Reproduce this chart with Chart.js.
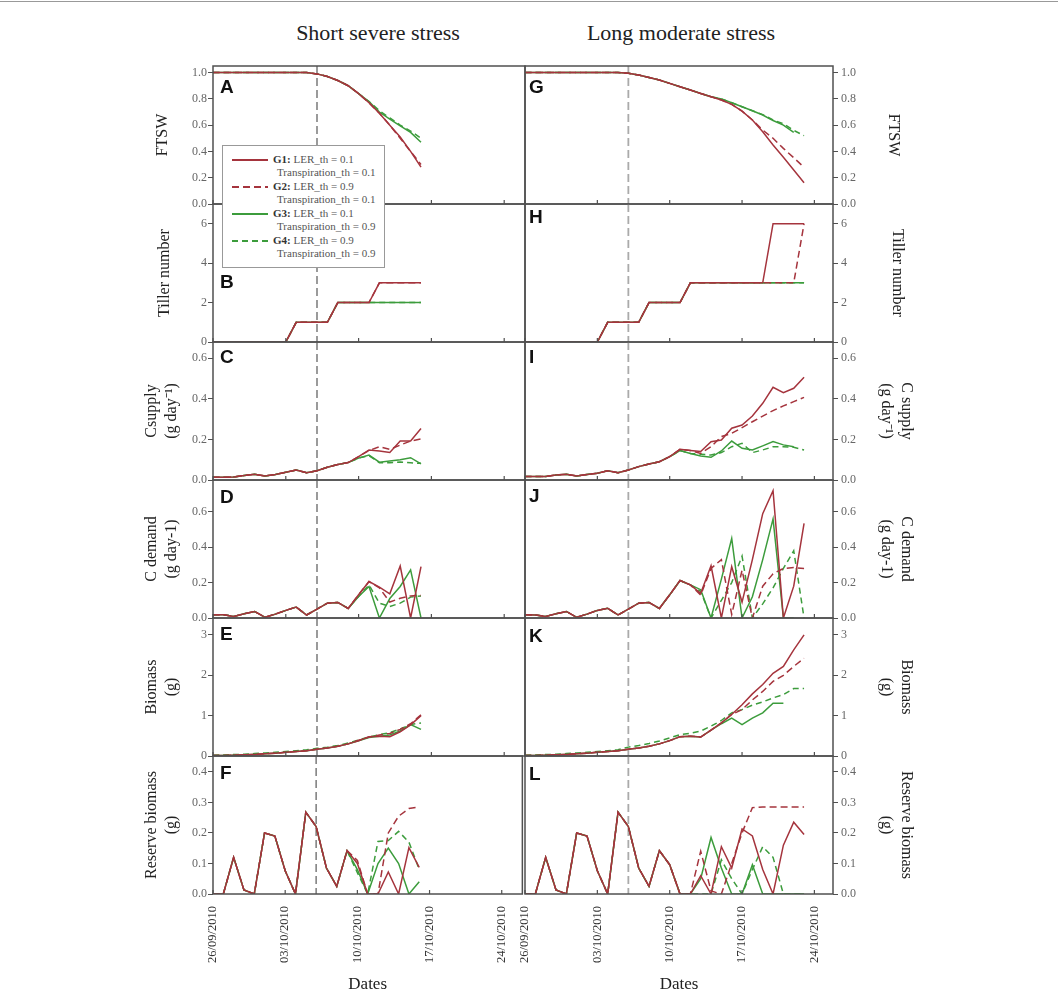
<!DOCTYPE html>
<html>
<head>
<meta charset="utf-8">
<script src="https://cdn.jsdelivr.net/npm/chart.js@4.4.0/dist/chart.umd.min.js"></script>
<style>
  body { margin: 0; background: #fff; width: 1058px; height: 998px; position: relative; overflow: hidden;
         font-family: 'Liberation Serif', 'Times New Roman', serif; }
  canvas { position: absolute; }
  .rule { position: absolute; left: 0; top: 1px; width: 1058px; border-top: 1px solid #999; }
  .head { position: absolute; top: 20px; font-size: 22px; color: #222; transform: translateX(-50%); white-space: nowrap; }
  #legend { position: absolute; left: 222px; top: 145px; width: 161px; height: 121px; border: 1px solid #999;
            background: #fff; z-index: 10; }
  #legend .entry { position: absolute; left: 0; width: 100%; }
  #legend svg { position: absolute; left: 9px; }
  #legend .txt { position: absolute; left: 50px; font-size: 11px; line-height: 13.4px; color: #555; white-space: nowrap; }
  #legend .txt b { color: #333; }
</style>
</head>
<body>
<div class="rule"></div>
<div class="head" style="left:378px">Short severe stress</div>
<div class="head" style="left:681px">Long moderate stress</div>
<div id="legend"></div>
<script>
// x = days after 26/09/2010
const tickDays = [0, 7, 14, 21, 28];
const tickLabels = ['26/09/2010', '03/10/2010', '10/10/2010', '17/10/2010', '24/10/2010'];
const stressStart = 10;

const groupNames = ['G1', 'G2', 'G3', 'G4'];
const lerTh = ['0.1', '0.9', '0.1', '0.9'];
const transpTh = ['0.1', '0.1', '0.9', '0.9'];

// ---- short severe stress (days 0..20) ----
const ftswShortG1 = [1,1,1,1,1,1,1,1,1,1,0.99,0.97,0.94,0.90,0.84,0.77,0.69,0.60,0.51,0.40,0.28];
const ftswShortG2 = [1,1,1,1,1,1,1,1,1,1,0.99,0.97,0.94,0.90,0.84,0.77,0.69,0.60,0.50,0.40,0.30];
const ftswShortG3 = [1,1,1,1,1,1,1,1,1,1,0.99,0.97,0.94,0.90,0.84,0.78,0.70,0.645,0.595,0.545,0.47];
const ftswShortG4 = [1,1,1,1,1,1,1,1,1,1,0.99,0.97,0.94,0.90,0.84,0.78,0.71,0.655,0.60,0.555,0.50];

const tillShortG1 = [0,0,0,0,0,0,0,0,1,1,1,1,2,2,2,2,3,3,3,3,3];
const tillShortG2 = [0,0,0,0,0,0,0,0,1,1,1,1,2,2,2,2,3,3,3,3,3];
const tillShortG3 = [0,0,0,0,0,0,0,0,1,1,1,1,2,2,2,2,2,2,2,2,2];
const tillShortG4 = [0,0,0,0,0,0,0,0,1,1,1,1,2,2,2,2,2,2,2,2,2];

const supShortG1 = [0.013,0.013,0.015,0.022,0.028,0.020,0.027,0.038,0.049,0.036,0.046,0.063,0.076,0.086,0.115,0.148,0.143,0.136,0.192,0.192,0.254];
const supShortG2 = [0.013,0.013,0.015,0.022,0.028,0.020,0.027,0.038,0.049,0.036,0.046,0.063,0.076,0.086,0.115,0.145,0.164,0.151,0.172,0.192,0.202];
const supShortG3 = [0.013,0.013,0.015,0.022,0.028,0.020,0.027,0.038,0.049,0.036,0.046,0.063,0.076,0.086,0.108,0.123,0.088,0.094,0.100,0.110,0.079];
const supShortG4 = [0.013,0.013,0.015,0.022,0.028,0.020,0.027,0.038,0.049,0.036,0.046,0.063,0.076,0.086,0.108,0.120,0.085,0.085,0.089,0.085,0.082];

const demShortG1 = [0.019,0.019,0.009,0.024,0.037,0.004,0.022,0.043,0.062,0.017,0.050,0.084,0.088,0.054,0.131,0.206,0.174,0.137,0.294,0.0,0.290];
const demShortG2 = [0.019,0.019,0.009,0.024,0.037,0.004,0.022,0.043,0.062,0.017,0.050,0.084,0.088,0.054,0.131,0.206,0.170,0.090,0.112,0.125,0.128];
const demShortG3 = [0.019,0.019,0.009,0.024,0.037,0.004,0.022,0.043,0.062,0.017,0.050,0.084,0.088,0.054,0.122,0.178,0.0,0.110,0.178,0.272,0.0];
const demShortG4 = [0.019,0.019,0.009,0.024,0.037,0.004,0.022,0.043,0.062,0.017,0.050,0.084,0.088,0.054,0.122,0.187,0.084,0.065,0.084,0.118,0.125];

const bioShortG1 = [0.01,0.015,0.02,0.03,0.04,0.055,0.07,0.09,0.11,0.13,0.17,0.20,0.24,0.30,0.38,0.48,0.49,0.48,0.60,0.77,1.00];
const bioShortG2 = [0.01,0.015,0.02,0.03,0.04,0.055,0.07,0.09,0.11,0.13,0.17,0.20,0.24,0.30,0.39,0.47,0.52,0.56,0.66,0.80,1.02];
const bioShortG3 = [0.01,0.015,0.02,0.03,0.04,0.055,0.07,0.09,0.11,0.13,0.17,0.20,0.24,0.30,0.38,0.46,0.49,0.52,0.62,0.78,0.66];
const bioShortG4 = [0.02,0.025,0.035,0.045,0.06,0.075,0.09,0.11,0.13,0.155,0.19,0.22,0.26,0.32,0.40,0.47,0.53,0.58,0.67,0.78,0.82];

const resShortG1 = [0,0,0.12,0.013,0,0.20,0.19,0.076,0,0.268,0.221,0.085,0.025,0.142,0.10,0.0,0.0,0.072,0.0,0.152,0.087];
const resShortG2 = [0,0,0.12,0.013,0,0.20,0.19,0.076,0,0.268,0.221,0.085,0.025,0.142,0.11,0.0,0.0,0.20,0.255,0.28,0.285];
const resShortG3 = [0,0,0.12,0.013,0,0.20,0.19,0.076,0,0.268,0.221,0.085,0.025,0.142,0.08,0.0,0.10,0.15,0.10,0.0,0.04];
const resShortG4 = [0,0,0.12,0.013,0,0.20,0.19,0.076,0,0.268,0.221,0.085,0.025,0.142,0.07,0.0,0.172,0.175,0.205,0.17,0.08];

// ---- long moderate stress (days 0..27) ----
const ftswLongG1 = [1,1,1,1,1,1,1,1,1,1,0.995,0.981,0.963,0.943,0.918,0.892,0.867,0.841,0.816,0.791,0.758,0.707,0.639,0.550,0.449,0.355,0.259,0.162];
const ftswLongG2 = [1,1,1,1,1,1,1,1,1,1,0.995,0.981,0.963,0.943,0.918,0.892,0.867,0.841,0.816,0.791,0.758,0.707,0.639,0.563,0.500,0.423,0.352,0.279];
const ftswLongG3 = [1,1,1,1,1,1,1,1,1,1,0.995,0.981,0.963,0.943,0.918,0.892,0.867,0.841,0.816,0.800,0.770,0.740,0.710,0.677,0.635,0.600,0.545,null];
const ftswLongG4 = [1,1,1,1,1,1,1,1,1,1,0.995,0.981,0.963,0.943,0.918,0.892,0.867,0.841,0.816,0.800,0.770,0.740,0.710,0.680,0.640,0.610,0.560,0.520];

const tillLongG1 = [0,0,0,0,0,0,0,0,1,1,1,1,2,2,2,2,3,3,3,3,3,3,3,3,6,6,6,6];
const tillLongG2 = [0,0,0,0,0,0,0,0,1,1,1,1,2,2,2,2,3,3,3,3,3,3,3,3,3,3,3,6];
const tillLongG3 = [0,0,0,0,0,0,0,0,1,1,1,1,2,2,2,2,3,3,3,3,3,3,3,3,3,3,3,3];
const tillLongG4 = [0,0,0,0,0,0,0,0,1,1,1,1,2,2,2,2,3,3,3,3,3,3,3,3,3,3,3,3];

const supLongG1 = [0.017,0.017,0.017,0.025,0.028,0.020,0.027,0.033,0.046,0.036,0.049,0.066,0.079,0.090,0.115,0.151,0.145,0.140,0.189,0.197,0.255,0.271,0.315,0.378,0.457,0.430,0.452,0.506];
const supLongG2 = [0.017,0.017,0.017,0.025,0.028,0.020,0.027,0.033,0.046,0.036,0.049,0.066,0.079,0.090,0.115,0.151,0.145,0.131,0.164,0.214,0.230,0.258,0.287,0.315,0.342,0.365,0.386,0.407];
const supLongG3 = [0.017,0.017,0.017,0.025,0.028,0.020,0.027,0.033,0.046,0.036,0.049,0.066,0.079,0.090,0.115,0.145,0.131,0.118,0.112,0.143,0.192,0.156,0.148,0.168,0.189,0.173,0.164,null];
const supLongG4 = [0.017,0.017,0.017,0.025,0.028,0.020,0.027,0.033,0.046,0.036,0.049,0.066,0.079,0.090,0.115,0.145,0.131,0.127,0.123,0.135,0.164,0.181,0.135,0.148,0.164,0.164,0.161,0.148];

const demLongG1 = [0.019,0.017,0.009,0.024,0.037,0.004,0.022,0.043,0.055,0.017,0.050,0.084,0.088,0.054,0.131,0.212,0.187,0.140,0.295,0.0,0.290,0.090,0.330,0.590,0.720,0.0,0.180,0.535];
const demLongG2 = [0.019,0.017,0.009,0.024,0.037,0.004,0.022,0.043,0.055,0.017,0.050,0.084,0.088,0.054,0.131,0.212,0.187,0.130,0.280,0.330,0.020,0.270,0.0,0.180,0.250,0.280,0.285,0.280];
const demLongG3 = [0.019,0.017,0.009,0.024,0.037,0.004,0.022,0.043,0.055,0.017,0.050,0.084,0.088,0.054,0.131,0.212,0.187,0.160,0.0,0.220,0.450,0.0,0.120,0.330,0.560,0.0,0.0,null];
const demLongG4 = [0.019,0.017,0.009,0.024,0.037,0.004,0.022,0.043,0.055,0.017,0.050,0.084,0.088,0.054,0.131,0.212,0.187,0.150,0.0,0.100,0.200,0.350,0.0,0.080,0.170,0.280,0.380,0.0];

const bioLongG1 = [0.01,0.015,0.02,0.03,0.04,0.055,0.07,0.09,0.11,0.13,0.17,0.20,0.24,0.30,0.38,0.48,0.49,0.47,0.64,0.82,1.03,1.27,1.54,1.77,2.05,2.22,2.63,3.00];
const bioLongG2 = [0.01,0.015,0.02,0.03,0.04,0.055,0.07,0.09,0.11,0.13,0.17,0.20,0.24,0.30,0.38,0.48,0.49,0.47,0.64,0.82,1.03,1.15,1.39,1.60,1.85,2.00,2.22,2.42];
const bioLongG3 = [0.01,0.015,0.02,0.03,0.04,0.055,0.07,0.09,0.11,0.13,0.17,0.20,0.24,0.30,0.38,0.48,0.49,0.47,0.64,0.80,0.94,0.78,0.94,1.07,1.31,1.31,null,null];
const bioLongG4 = [0.02,0.025,0.035,0.045,0.06,0.075,0.09,0.11,0.13,0.155,0.22,0.26,0.31,0.37,0.45,0.53,0.56,0.62,0.74,0.88,1.07,1.15,1.26,1.34,1.44,1.52,1.67,1.67];

const resLongG1 = [0,0,0.12,0.013,0,0.20,0.19,0.076,0,0.268,0.221,0.085,0.025,0.142,0.096,0,0,0.06,0.0,0.155,0.085,0.213,0.19,0.08,0.0,0.16,0.235,0.195];
const resLongG2 = [0,0,0.12,0.013,0,0.20,0.19,0.076,0,0.268,0.221,0.085,0.025,0.142,0.096,0,0,0.14,0.01,0.0,0.10,0.20,0.283,0.285,0.285,0.285,0.285,0.285];
const resLongG3 = [0,0,0.12,0.013,0,0.20,0.19,0.076,0,0.268,0.221,0.085,0.025,0.142,0.096,0,0,0.05,0.185,0.085,0.0,0.0,0.096,0.0,0.0,0.0,0.0,0.0];
const resLongG4 = [0,0,0.12,0.013,0,0.20,0.19,0.076,0,0.268,0.221,0.085,0.025,0.142,0.096,0,0,0.0,0.0,0.112,0.05,0.0,0.08,0.155,0.12,0.0,0.0,0.0];

const RED = '#a5343d';
const GREEN = '#3c9c3c';
const SERIF = "'Liberation Serif', 'Times New Roman', serif";
const groupStyles = [
  { color: RED, dash: [] },
  { color: RED, dash: [7, 4] },
  { color: GREEN, dash: [] },
  { color: GREEN, dash: [6, 4] }
];

// page geometry
const rowTops = [66, 204, 342, 480, 618, 756];
const ROW_H = 138;
const PAD = 14;
const X_AXIS_H = 104;
const cols = [
  { side: 'left', canvasL: 100, padL: 0, padR: 4, axisW: 113, xMax: 30, vColor: '#666', vWidth: 1.3, letterDx: 7 },
  { side: 'right', canvasL: 509, padL: 16, padR: 0, axisW: 107, xMax: 29.8, vColor: '#aaa', vWidth: 1.8, letterDx: 4 }
];
cols[0].canvasW = 525 - cols[0].canvasL + cols[0].padR;
cols[1].canvasW = 940 - cols[1].canvasL;

const panels = [
  { col: 0, row: 0, letter: 'A', ly: 27, title: 'FTSW', tpad: 53, yMax: 1.05, step: 0.2, dec: 1, series: [ftswShortG1, ftswShortG2, ftswShortG3, ftswShortG4] },
  { col: 0, row: 1, letter: 'B', ly: 84, title: 'Tiller number', tpad: 55, yMax: 7, step: 2, dec: 0, series: [tillShortG1, tillShortG2, tillShortG3, tillShortG4] },
  { col: 0, row: 2, letter: 'C', ly: 21, title: ['Csupply', '(g day\u207B\u00B9)'], tpad: 42, yMax: 0.68, step: 0.2, dec: 1, series: [supShortG1, supShortG2, supShortG3, supShortG4] },
  { col: 0, row: 3, letter: 'D', ly: 23, title: ['C demand', '(g day-1)'], tpad: 42, yMax: 0.78, step: 0.2, dec: 1, series: [demShortG1, demShortG2, demShortG3, demShortG4] },
  { col: 0, row: 4, letter: 'E', ly: 22, title: ['Biomass', '(g)'], tpad: 42, yMax: 3.42, step: 1, dec: 0, series: [bioShortG1, bioShortG2, bioShortG3, bioShortG4] },
  { col: 0, row: 5, letter: 'F', ly: 23, title: ['Reserve biomass', '(g)'], tpad: 42, yMax: 0.452, step: 0.1, dec: 1, series: [resShortG1, resShortG2, resShortG3, resShortG4] },
  { col: 1, row: 0, letter: 'G', ly: 27, title: 'FTSW', tpad: 37, yMax: 1.05, step: 0.2, dec: 1, series: [ftswLongG1, ftswLongG2, ftswLongG3, ftswLongG4] },
  { col: 1, row: 1, letter: 'H', ly: 19, title: 'Tiller number', tpad: 33, yMax: 7, step: 2, dec: 0, series: [tillLongG1, tillLongG2, tillLongG3, tillLongG4] },
  { col: 1, row: 2, letter: 'I', ly: 21, title: ['C supply', '(g day\u207B\u00B9)'], tpad: 24, yMax: 0.68, step: 0.2, dec: 1, series: [supLongG1, supLongG2, supLongG3, supLongG4] },
  { col: 1, row: 3, letter: 'J', ly: 22, title: ['C demand', '(g day-1)'], tpad: 24, yMax: 0.78, step: 0.2, dec: 1, series: [demLongG1, demLongG2, demLongG3, demLongG4] },
  { col: 1, row: 4, letter: 'K', ly: 24, title: ['Biomass', '(g)'], tpad: 24, yMax: 3.42, step: 1, dec: 0, series: [bioLongG1, bioLongG2, bioLongG3, bioLongG4] },
  { col: 1, row: 5, letter: 'L', ly: 24, title: ['Reserve biomass', '(g)'], tpad: 24, yMax: 0.452, step: 0.1, dec: 1, series: [resLongG1, resLongG2, resLongG3, resLongG4] }
];

// frame, inner x ticks, stress line and panel letter
const panelDeco = {
  id: 'panelDeco',
  beforeDatasetsDraw(chart, args, o) {
    const { ctx, chartArea: a, scales: { x } } = chart;
    const px = x.getPixelForValue(stressStart);
    ctx.save();
    ctx.strokeStyle = o.vColor;
    ctx.lineWidth = o.vWidth;
    ctx.setLineDash([8, 4]);
    ctx.beginPath();
    ctx.moveTo(px, a.top);
    ctx.lineTo(px, a.bottom);
    ctx.stroke();
    ctx.restore();
  },
  afterDraw(chart, args, o) {
    const { ctx, chartArea: a, scales: { x } } = chart;
    ctx.save();
    ctx.strokeStyle = '#505050';
    ctx.lineWidth = 1.5;
    ctx.strokeRect(a.left, a.top, a.right - a.left, a.bottom - a.top);
    ctx.lineWidth = 1.2;
    ctx.beginPath();
    tickDays.forEach(d => {
      const px = x.getPixelForValue(d);
      ctx.moveTo(px, a.bottom);
      ctx.lineTo(px, a.bottom - 4);
    });
    ctx.stroke();
    ctx.fillStyle = '#111';
    ctx.font = "bold 19px 'Liberation Sans', Arial, sans-serif";
    ctx.textBaseline = 'alphabetic';
    ctx.fillText(o.letter, a.left + o.dx, a.top + o.ly);
    ctx.restore();
  }
};

panels.forEach(p => {
  const col = cols[p.col];
  const bottomRow = p.row === rowTops.length - 1;
  const cv = document.createElement('canvas');
  cv.width = col.canvasW;
  cv.height = PAD + ROW_H + (bottomRow ? X_AXIS_H : PAD);
  cv.style.left = col.canvasL + 'px';
  cv.style.top = (rowTops[p.row] - PAD) + 'px';
  document.body.appendChild(cv);

  new Chart(cv, {
    type: 'line',
    data: {
      datasets: p.series.map((vals, g) => ({
        label: groupNames[g],
        data: vals.map((v, i) => ({ x: i, y: v })),
        borderColor: groupStyles[g].color,
        borderDash: groupStyles[g].dash,
        borderWidth: 1.5,
        pointRadius: 0,
        fill: false,
        tension: 0
      }))
    },
    options: {
      responsive: false,
      animation: false,
      events: [],
      layout: { padding: { left: col.padL, right: col.padR, top: PAD, bottom: bottomRow ? 0 : PAD } },
      plugins: {
        legend: { display: false },
        tooltip: { enabled: false },
        panelDeco: { letter: p.letter, ly: p.ly, dx: col.letterDx, vColor: col.vColor, vWidth: col.vWidth }
      },
      scales: {
        x: {
          type: 'linear',
          min: 0,
          max: col.xMax,
          display: bottomRow,
          grid: { display: false, drawTicks: false },
          border: { display: false },
          ticks: {
            stepSize: 7,
            includeBounds: false,
            autoSkip: false,
            minRotation: 90,
            maxRotation: 90,
            padding: 12,
            color: '#333',
            font: { family: SERIF, size: 12.5 },
            callback: v => {
              const k = tickDays.indexOf(Math.round(v));
              return k >= 0 ? tickLabels[k] : '';
            }
          },
          title: { display: true, text: 'Dates', color: '#222', font: { family: SERIF, size: 17 }, padding: { top: 0, bottom: 3 } },
          afterFit: s => { s.height = bottomRow ? X_AXIS_H : 0; }
        },
        y: {
          position: col.side,
          min: 0,
          max: p.yMax,
          grid: { drawOnChartArea: false, drawTicks: true, tickLength: 5, color: '#505050' },
          border: { display: false },
          ticks: {
            stepSize: p.step,
            includeBounds: false,
            padding: col.side === 'left' ? 1 : 3,
            color: '#666',
            font: { family: SERIF, size: 12 },
            callback: v => Number(v).toFixed(p.dec)
          },
          title: { display: true, text: p.title, color: '#222', font: { family: SERIF, size: 16, lineHeight: 1.25 }, padding: { top: p.tpad, bottom: 0 } },
          afterFit: s => { s.width = col.axisW; }
        }
      }
    },
    plugins: [panelDeco]
  });
});

// legend box
const legend = document.getElementById('legend');
groupNames.forEach((name, g) => {
  const st = groupStyles[g];
  const entry = document.createElement('div');
  entry.className = 'entry';
  entry.style.top = (27 * g) + 'px';
  entry.innerHTML =
    '<svg width="36" height="4" style="top:12px"><line x1="0" y1="2" x2="36" y2="2" stroke="' + st.color +
    '" stroke-width="1.8" stroke-dasharray="' + (st.dash.length ? st.dash.join(' ') : 'none') + '"/></svg>' +
    '<div class="txt" style="top:7px"><b>' + name + ':</b> LER_th = ' + lerTh[g] + '</div>' +
    '<div class="txt" style="top:20.4px;left:54px">Transpiration_th = ' + transpTh[g] + '</div>';
  legend.appendChild(entry);
});
</script>
</body>
</html>
